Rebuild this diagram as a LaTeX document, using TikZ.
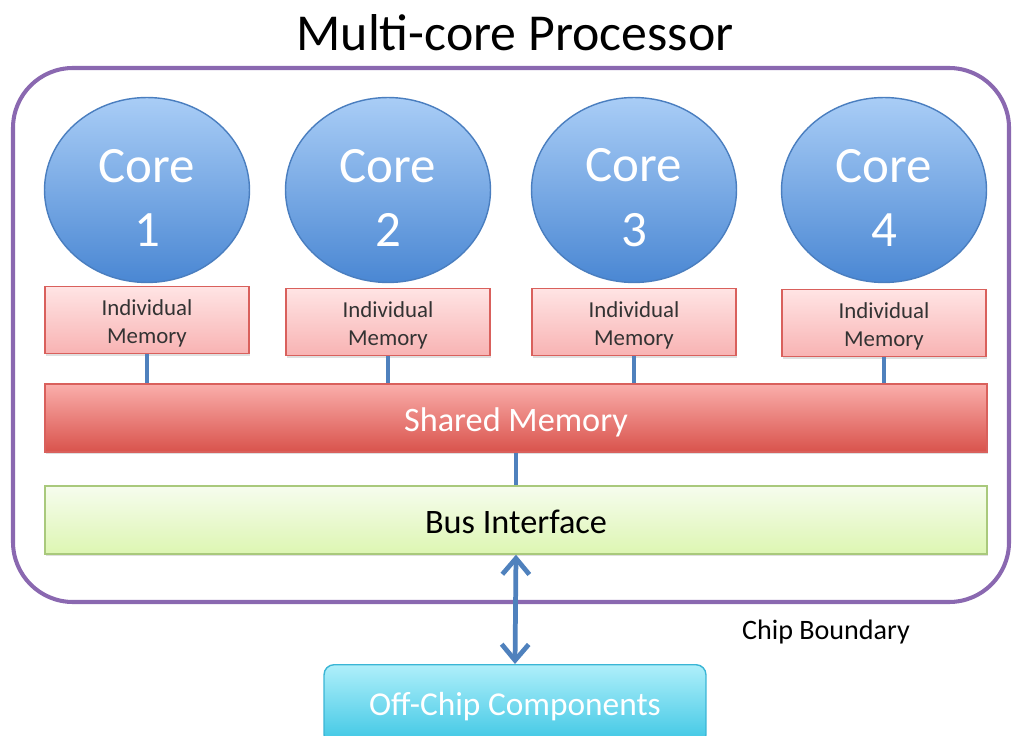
\documentclass[tikz,border=0pt]{standalone}
\usepackage[dvipsnames,svgnames]{xcolor}
\usepackage{fontspec}
\setmainfont{Carlito}
\usetikzlibrary{shapes.geometric,arrows.meta,shadows}

\definecolor{coretop}{HTML}{A9CDF6}
\definecolor{corebot}{HTML}{4A87D3}
\definecolor{coreline}{HTML}{4A7EBF}
\definecolor{memtop}{HTML}{FFE4E4}
\definecolor{membot}{HTML}{F8B3B3}
\definecolor{memline}{HTML}{D9605C}
\definecolor{shtop}{HTML}{FAAEAB}
\definecolor{shbot}{HTML}{D9534C}
\definecolor{bustop}{HTML}{F6FCEE}
\definecolor{busbot}{HTML}{DDF6B2}
\definecolor{busline}{HTML}{A9C97C}
\definecolor{offtop}{HTML}{AFEFFA}
\definecolor{offbot}{HTML}{3CC6E4}
\definecolor{offline}{HTML}{3AB5D5}
\definecolor{chipline}{HTML}{8A68B0}
\definecolor{wire}{HTML}{4F81BD}

\tikzset{
  core/.style={ellipse,draw=coreline,line width=0.8pt,top color=coretop,bottom color=corebot,
    minimum width=4.1cm,minimum height=3.7cm,inner sep=0pt,text=white,align=center,
    font=\fontsize{29}{36.5}\selectfont},
  indmem/.style={rectangle,draw=memline,line width=0.8pt,top color=memtop,bottom color=membot,
    minimum width=4.08cm,minimum height=1.34cm,inner sep=0pt,align=center,text=black!80,
    font=\fontsize{13}{16}\selectfont,drop shadow={opacity=0.25,shadow xshift=0.4pt,shadow yshift=-1.2pt}},
  bar/.style={rectangle,line width=0.8pt,minimum width=18.84cm,minimum height=1.36cm,inner sep=0pt,
    text height=19.5pt,text depth=4pt,
    font=\fontsize{19.5}{23}\selectfont,drop shadow={opacity=0.25,shadow xshift=0.4pt,shadow yshift=-1.2pt}},
  wireline/.style={draw=wire,line width=2.3pt}
}

\begin{document}
\begin{tikzpicture}[x=0.02cm,y=-0.02cm]
  \useasboundingbox (0,0) rectangle (1013,736);
  \node (title) at (515,33) {\fontsize{29.5}{34}\selectfont Multi-core Processor};
  \draw[chipline,line width=2.3pt,rounded corners=1.2cm] (13,68) rectangle (1009,602);
  \node (lbl) at (826,632) {\fontsize{16}{19}\selectfont Chip Boundary};

  \foreach \i/\x/\y in {1/147/286,2/388/288,3/634/288,4/884/289}{
    \node[core] (c\i) at (\x,190) {\rule{0pt}{27.5pt}Core\\\i};
    \node[indmem,anchor=north] (m\i) at (\x,\y) {\rule{0pt}{12.8pt}Individual\\Memory};
  }

  \node[bar,draw=memline,top color=shtop,bottom color=shbot,text=white] (sm) at (516,418) {Shared Memory};
  \node[bar,draw=busline,top color=bustop,bottom color=busbot,text=black] (bus) at (516,520) {Bus Interface};
  \node[rectangle,rounded corners=0.2cm,draw=offline,line width=0.8pt,top color=offtop,bottom color=offbot,
    minimum width=7.64cm,minimum height=1.6cm,inner sep=0pt,text=white,anchor=north,
    text height=16pt,text depth=3.8pt,font=\fontsize{19}{23}\selectfont] (off) at (515,664) {Off-Chip Components};

  \foreach \i in {1,...,4}
    \draw[wireline] (m\i.south) -- (m\i.south |- sm.north);
  \draw[wireline] (sm.south) -- (bus.north);
  \draw[wireline,line width=2.7pt,{Straight Barb[length=3.2mm,width=5.4mm,line width=2.7pt]}-{Straight Barb[length=3.2mm,width=5.4mm,line width=2.7pt]}]
    (bus.south) -- (off.north);
\end{tikzpicture}
\end{document}
